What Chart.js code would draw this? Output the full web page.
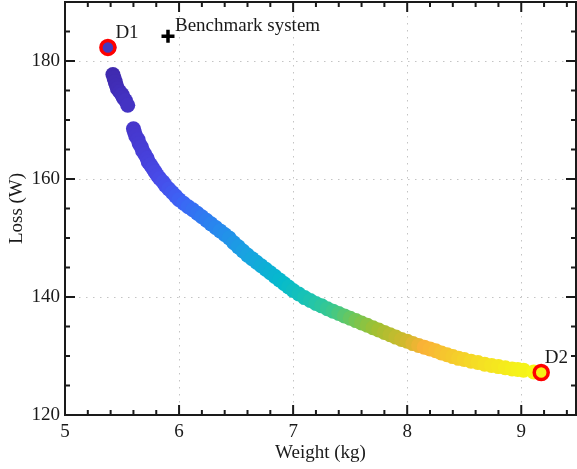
<!DOCTYPE html>
<html>
<head>
<meta charset="utf-8">
<script src="https://cdn.jsdelivr.net/npm/chart.js@4.4.1/dist/chart.umd.min.js"></script>
<style>
  body { margin: 0; background: #fff; }
  #wrap { width: 577px; height: 469px; }
</style>
</head>
<body>
<div id="wrap"><canvas id="myChart1" width="577" height="469"></canvas></div>
<script>
// pareto front (weight in kg, loss in W)
const weightKg = [
    5.385, 5.42, 5.43, 5.44, 5.45, 5.46, 5.48, 5.50, 5.51, 5.53, 5.55,
    5.60, 5.61, 5.62, 5.64, 5.65, 5.67, 5.68, 5.70, 5.72, 5.73, 5.75, 5.77, 5.79, 5.81, 5.83,
    5.86, 5.88, 5.91, 5.94, 5.97, 6.00, 6.04, 6.08, 6.12, 6.16, 6.20, 6.24, 6.28, 6.32, 6.36,
    6.40, 6.44, 6.48, 6.52, 6.56, 6.60, 6.64, 6.68, 6.72, 6.76, 6.80, 6.84, 6.88, 6.92, 6.96,
    7.00, 7.05, 7.10, 7.15, 7.20, 7.25, 7.30, 7.35, 7.40, 7.45, 7.50, 7.55, 7.60, 7.65, 7.70,
    7.75, 7.80, 7.85, 7.90, 7.95, 8.00, 8.05, 8.10, 8.15, 8.20, 8.25, 8.30, 8.35, 8.40, 8.45,
    8.50, 8.56, 8.62, 8.68, 8.74, 8.80, 8.86, 8.92, 8.97, 9.02, 9.11, 9.18
];
const lossW = [
    182.3, 177.7, 177.1, 176.5, 175.9, 175.3, 174.8, 174.3, 173.8, 173.3, 172.5,
    168.5, 167.9, 167.3, 166.7, 166.0, 165.4, 164.8, 164.2, 163.5, 162.9, 162.4, 161.8, 161.2, 160.6, 160.1,
    159.5, 158.9, 158.3, 157.7, 157.1, 156.5, 155.9, 155.3, 154.8, 154.2, 153.6, 153.0, 152.4, 151.8, 151.2,
    150.6, 150.0, 149.2, 148.5, 147.8, 147.1, 146.5, 145.9, 145.3, 144.7, 144.1, 143.5, 142.9, 142.3, 141.7,
    141.1, 140.5, 139.9, 139.4, 138.9, 138.5, 138.0, 137.6, 137.2, 136.8, 136.4, 136.0, 135.6, 135.2, 134.8,
    134.4, 134.0, 133.6, 133.2, 132.8, 132.5, 132.1, 131.8, 131.5, 131.2, 130.9, 130.5, 130.2, 129.9, 129.6,
    129.4, 129.1, 128.9, 128.6, 128.4, 128.2, 128.0, 127.8, 127.7, 127.6, 127.3, 127.2
];

// picked designs
const designNames = ['D1', 'D2'];
const designWeight = [5.376, 9.175];
const designLoss = [182.3, 127.2];

// benchmark
const benchName = 'Benchmark system';
const benchWeight = [5.903];
const benchLoss = [184.2];

// axis ticks
const xTicks = [5, 6, 7, 8, 9];
const yTicks = [120, 140, 160, 180];

const FONT = 'Liberation Serif';

// parula-like colour ramp
const ramp = [
    [0.00, 62, 40, 170], [0.06, 70, 55, 205], [0.12, 72, 75, 232], [0.17, 60, 100, 245],
    [0.25, 40, 135, 238], [0.32, 25, 162, 225], [0.40, 5, 185, 205], [0.46, 25, 195, 180],
    [0.52, 60, 200, 140], [0.57, 115, 198, 85], [0.62, 160, 192, 50], [0.69, 210, 185, 45],
    [0.73, 250, 178, 55], [0.79, 245, 200, 45], [0.87, 245, 225, 35], [0.95, 245, 242, 25],
    [1.00, 248, 250, 20]
];
function rampColor(t) {
    t = Math.max(0, Math.min(1, t));
    for (let i = 1; i < ramp.length; i++) {
        if (t <= ramp[i][0]) {
            const a = ramp[i - 1], b = ramp[i];
            const f = (t - a[0]) / (b[0] - a[0]);
            const c = [1, 2, 3].map(k => Math.round(a[k] + (b[k] - a[k]) * f));
            return 'rgb(' + c.join(',') + ')';
        }
    }
    return 'rgb(248,250,20)';
}
const wMin = Math.min(...weightKg), wMax = Math.max(...weightKg);

const frontPoints = weightKg.map((w, i) => ({ x: w, y: lossW[i] }));
const designPoints = designWeight.map((w, i) => ({ x: w, y: designLoss[i] }));
const benchPoints = benchWeight.map((w, i) => ({ x: w, y: benchLoss[i] }));

// box with inward ticks + text labels
const framePlugin = {
    id: 'frame',
    afterDraw(chart) {
        const { ctx, chartArea: a, scales: { x, y } } = chart;
        ctx.save();
        ctx.strokeStyle = '#1a1a1a';
        ctx.lineWidth = 2;
        ctx.beginPath();
        for (let i = 0; i <= 22; i++) {
            const px = x.getPixelForValue(5 + i * 0.2);
            const len = i % 5 === 0 ? 10 : 5;
            ctx.moveTo(px, a.bottom); ctx.lineTo(px, a.bottom - len);
            ctx.moveTo(px, a.top); ctx.lineTo(px, a.top + len);
        }
        for (let i = 0; i <= 14; i++) {
            const py = y.getPixelForValue(120 + i * 5);
            const len = i % 4 === 0 ? 10 : 5;
            ctx.moveTo(a.left, py); ctx.lineTo(a.left + len, py);
            ctx.moveTo(a.right, py); ctx.lineTo(a.right - len, py);
        }
        ctx.stroke();
        ctx.strokeRect(a.left, a.top, a.right - a.left, a.bottom - a.top);

        ctx.fillStyle = '#1a1a1a';
        ctx.font = '19px "' + FONT + '"';
        ctx.textBaseline = 'alphabetic';
        ctx.textAlign = 'left';
        const offs = [[7.5, -9.5], [3.5, -10]];
        designNames.forEach((n, i) => {
            ctx.fillText(n, x.getPixelForValue(designWeight[i]) + offs[i][0],
                y.getPixelForValue(designLoss[i]) + offs[i][1]);
        });
        ctx.fillText(benchName, x.getPixelForValue(benchWeight[0]) + 7,
            y.getPixelForValue(benchLoss[0]) - 5.5);
        ctx.restore();
    }
};

const config = {
    type: 'scatter',
    data: {
        datasets: [
            {
                label: 'designs',
                data: designPoints,
                order: 0,
                pointRadius: 7,
                pointBorderWidth: 3.5,
                borderColor: 'rgb(255,0,0)',
                backgroundColor: ['rgb(70,58,190)', 'rgb(245,240,22)']
            },
            {
                label: 'benchmark',
                data: benchPoints,
                order: 1,
                pointStyle: 'cross',
                pointRadius: 6.5,
                pointBorderWidth: 3.5,
                borderColor: '#000'
            },
            {
                label: 'front',
                data: frontPoints,
                order: 2,
                pointRadius: 7.5,
                borderWidth: 0,
                backgroundColor: ctx => rampColor((ctx.raw.x - wMin) / (wMax - wMin))
            }
        ]
    },
    options: {
        responsive: false,
        animation: false,
        devicePixelRatio: 1,
        layout: { autoPadding: false, padding: { top: 2, right: 1, left: 0, bottom: 0 } },
        plugins: { legend: { display: false }, tooltip: { enabled: false } },
        scales: {
            x: {
                type: 'linear',
                min: 5,
                max: 9.48,
                afterBuildTicks: s => { s.ticks = xTicks.map(v => ({ value: v })); },
                afterFit: s => { s.height = 54; s.paddingLeft = 0; s.paddingRight = 0; },
                grid: { color: '#c4c4c4', lineWidth: 1, drawTicks: false },
                border: { display: false, dash: [1.5, 5.5] },
                ticks: { padding: 6, color: '#1a1a1a', font: { family: FONT, size: 19 } },
                title: { display: true, text: 'Weight (kg)', color: '#1a1a1a',
                    font: { family: FONT, size: 19 }, padding: { top: 0, bottom: 5 } }
            },
            y: {
                type: 'linear',
                min: 120,
                max: 190,
                afterBuildTicks: s => { s.ticks = yTicks.map(v => ({ value: v })); },
                afterFit: s => { s.width = 65; s.paddingTop = 0; s.paddingBottom = 0; },
                grid: { color: '#c4c4c4', lineWidth: 1, drawTicks: false },
                border: { display: false, dash: [1.5, 5.5] },
                ticks: { padding: 5, color: '#1a1a1a', font: { family: FONT, size: 19 } },
                title: { display: true, text: 'Loss (W)', color: '#1a1a1a',
                    font: { family: FONT, size: 19 }, padding: { top: 6, bottom: 0 } }
            }
        }
    },
    plugins: [framePlugin]
};

window.myChart = new Chart(document.getElementById('myChart1'), config);
</script>
</body>
</html>
